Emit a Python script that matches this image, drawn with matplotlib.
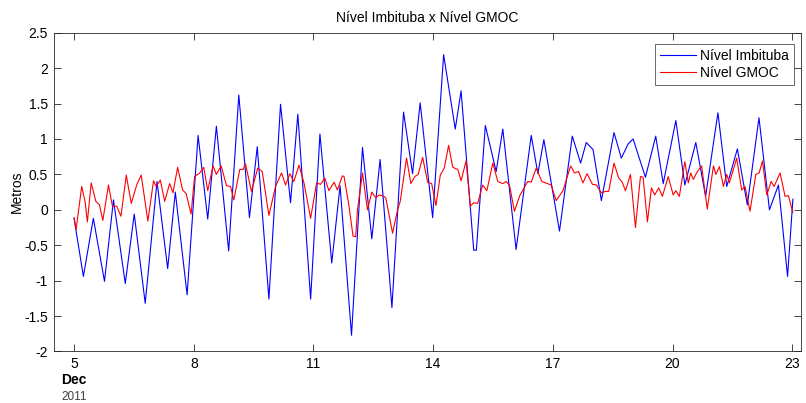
import matplotlib.pyplot as plt
import matplotlib.dates as mdates
import pandas as pd

plt.rcParams['font.family'] = ['Liberation Sans', 'DejaVu Sans']

start = pd.Timestamp('2011-12-05 00:00')

# Imbituba tide gauge: hours after Dec 5 00:00 and level (m)
imb_hours = [0.0, 5.6, 11.6, 18.3, 23.7, 30.8, 36.2, 42.8, 49.9, 56.3,
             60.9, 68.0, 74.6, 80.4, 85.6, 93.0, 99.1, 105.5, 110.2, 117.2,
             124.2, 130.2, 134.6, 142.3, 147.9, 155.0, 160.0, 166.9, 173.5, 179.1,
             184.1, 191.2, 198.2, 203.6, 208.2, 215.7, 222.3, 229.3, 232.8, 240.4,
             242.0, 247.4, 253.9, 257.9, 265.9, 275.0, 279.0, 282.6, 292.0, 299.7,
             304.7, 308.1, 312.2, 317.2, 324.8, 329.2, 333.3, 336.3, 343.7, 349.9,
             354.4, 362.0, 367.4, 374.0, 379.9, 387.3, 392.6, 399.0, 405.0, 412.0,
             418.3, 423.7, 429.2, 432.4]
imb_level = [-0.12, -0.94, -0.12, -1.01, 0.14, -1.04, -0.06, -1.32, 0.40, -0.83,
             0.25, -1.20, 1.05, -0.13, 1.18, -0.58, 1.62, -0.11, 0.89, -1.26,
             1.49, 0.10, 1.35, -1.26, 1.07, -0.75, 0.34, -1.77, 0.88, -0.41,
             0.71, -1.38, 1.38, 0.51, 1.51, -0.11, 2.19, 1.14, 1.68, -0.57,
             -0.57, 1.19, 0.54, 1.14, -0.56, 1.05, 0.51, 0.99, -0.30, 1.04,
             0.66, 0.95, 0.85, 0.13, 1.09, 0.73, 0.93, 1.00, 0.46, 1.04,
             0.37, 1.26, 0.35, 0.95, 0.19, 1.37, 0.33, 0.86, 0.07, 1.30,
             0.00, 0.35, -0.94, 0.15]

# GMOC model output: hours after Dec 5 00:00 and level (m)
gmoc_hours = [0.0, 1.2, 4.6, 6.6, 8.0, 10.3, 13.1, 15.3, 17.3, 20.7,
              23.1, 25.7, 28.2, 31.4, 34.4, 37.8, 40.4, 44.4, 47.8, 49.4,
              51.9, 54.5, 57.5, 59.5, 62.3, 65.3, 67.4, 70.4, 72.5, 75.6,
              78.0, 80.4, 83.6, 85.6, 88.5, 91.7, 94.1, 96.1, 99.7, 101.7,
              103.1, 106.7, 110.5, 113.2, 117.2, 121.2, 124.8, 127.2, 129.8, 132.2,
              135.3, 138.3, 142.3, 145.9, 148.3, 150.8, 153.3, 156.4, 158.4, 161.4,
              162.4, 165.4, 167.8, 169.4, 170.5, 173.5, 176.5, 179.1, 181.5, 183.5,
              185.5, 187.5, 191.6, 194.6, 196.2, 200.0, 202.6, 205.0, 207.0, 209.7,
              212.7, 215.1, 217.7, 220.3, 222.7, 225.3, 227.8, 230.8, 232.8, 235.8,
              238.4, 240.4, 242.8, 245.8, 248.3, 251.9, 254.9, 257.9, 259.9, 261.9,
              264.9, 268.1, 272.9, 275.0, 278.0, 281.4, 287.0, 290.0, 294.1, 298.7,
              301.1, 303.5, 306.1, 308.6, 311.8, 314.2, 317.2, 319.6, 321.6, 324.8,
              327.6, 329.7, 331.7, 334.7, 337.7, 340.7, 342.3, 344.9, 347.3, 349.3,
              351.7, 353.9, 357.4, 360.4, 362.0, 364.1, 367.4, 369.5, 370.9, 372.5,
              374.9, 377.5, 380.9, 384.6, 386.1, 388.2, 390.6, 392.6, 394.2, 398.6,
              401.6, 403.6, 406.6, 410.1, 412.1, 414.1, 416.7, 419.3, 421.1, 424.7,
              427.7, 429.7, 432.4]
gmoc_level = [-0.11, -0.28, 0.33, 0.12, -0.17, 0.38, 0.12, 0.07, -0.15, 0.35,
              0.05, 0.05, -0.09, 0.49, 0.09, 0.36, 0.49, -0.16, 0.41, 0.33,
              0.42, 0.12, 0.37, 0.24, 0.60, 0.28, 0.23, -0.06, 0.47, 0.52,
              0.60, 0.27, 0.62, 0.50, 0.62, 0.34, 0.33, 0.14, 0.57, 0.57,
              0.65, 0.26, 0.59, 0.54, -0.08, 0.33, 0.52, 0.35, 0.51, 0.40,
              0.63, 0.38, -0.12, 0.38, 0.36, 0.45, 0.27, 0.39, 0.28, 0.48,
              0.47, 0.05, -0.37, -0.38, 0.00, 0.52, 0.00, 0.25, 0.17, 0.21,
              0.20, 0.17, -0.33, 0.00, 0.12, 0.73, 0.37, 0.47, 0.50, 0.74,
              0.39, 0.37, 0.06, 0.49, 0.59, 0.91, 0.60, 0.57, 0.41, 0.69,
              0.05, 0.10, 0.09, 0.35, 0.27, 0.66, 0.40, 0.37, 0.40, 0.35,
              -0.02, 0.20, 0.40, 0.39, 0.59, 0.40, 0.35, 0.13, 0.27, 0.62,
              0.52, 0.54, 0.38, 0.51, 0.36, 0.35, 0.24, 0.26, 0.26, 0.66,
              0.45, 0.39, 0.27, 0.50, -0.25, 0.47, 0.46, -0.17, 0.31, 0.21,
              0.31, 0.19, 0.47, 0.21, 0.27, 0.19, 0.68, 0.38, 0.52, 0.43,
              0.54, 0.62, 0.01, 0.62, 0.50, 0.61, 0.33, 0.50, 0.38, 0.73,
              0.28, 0.33, -0.02, 0.50, 0.52, 0.69, 0.21, 0.40, 0.33, 0.52,
              0.19, 0.20, -0.04]

tick_days = [5, 8, 11, 14, 17, 20, 23]

imb_t = start + pd.to_timedelta(imb_hours, unit='h')
gmoc_t = start + pd.to_timedelta(gmoc_hours, unit='h')

fig = plt.figure(figsize=(8.06, 4.03), dpi=100)
ax = fig.add_axes([0.0664, 0.1278, 0.9274, 0.791])

ax.plot(imb_t, imb_level, color='#0000ff', lw=0.8, label='Nível Imbituba')
ax.plot(gmoc_t, gmoc_level, color='#ff0000', lw=0.8, label='Nível GMOC')

# matlab-like axis box with inward ticks on every side
ax.set_xlim(start - pd.Timedelta(days=0.515), start + pd.Timedelta(days=18.22))
ax.set_ylim(-2, 2.5)
ax.set_yticks([-2, -1.5, -1, -0.5, 0, 0.5, 1, 1.5, 2, 2.5])
ax.set_yticklabels(['-2', '-1.5', '-1', '-0.5', '0', '0.5', '1', '1.5', '2', '2.5'])
ax.set_xticks([pd.Timestamp(2011, 12, d) for d in tick_days])
ax.xaxis.set_major_formatter(mdates.DateFormatter('%-d'))
ax.tick_params(direction='in', top=True, right=True, length=5, width=0.6,
               labelsize=10, pad=4, colors='#262626', labelcolor='black')
for s in ax.spines.values():
    s.set_color('#262626')
    s.set_linewidth(0.6)

ax.set_ylabel('Metros', fontsize=10, labelpad=0)
ax.set_title('Nível Imbituba x Nível GMOC', fontsize=10, pad=8)

# month / year labels under the first tick
ax.text(0.0272, -0.089, 'Dec', transform=ax.transAxes, fontsize=10,
        fontweight='bold', ha='center', va='center')
ax.text(0.0272, -0.142, '2011', transform=ax.transAxes, fontsize=8.5,
        color='#404040', ha='center', va='center')

leg = ax.legend(loc='upper right', bbox_to_anchor=(0.9905, 0.965), fontsize=10,
                frameon=True, fancybox=False, handlelength=2.6,
                borderaxespad=0, borderpad=0.35, labelspacing=0.25,
                handletextpad=0.3)
leg.get_frame().set_edgecolor('#262626')
leg.get_frame().set_linewidth(0.6)

fig.savefig('out.png', dpi=100)
